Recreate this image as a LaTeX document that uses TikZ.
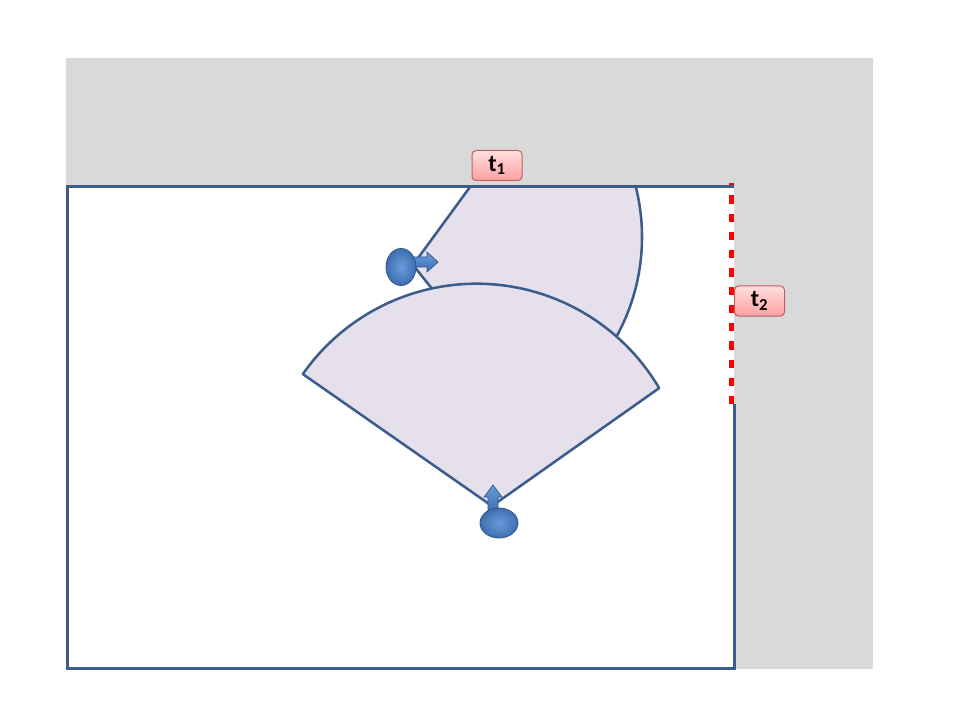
\documentclass[tikz,border=0pt]{standalone}
\usepackage{fontspec}
\setmainfont{Carlito}
\usetikzlibrary{shapes.geometric,calc}

\definecolor{slidegray}{RGB}{217,217,217}
\definecolor{roomblue}{RGB}{60,92,140}
\definecolor{sectorfill}{RGB}{230,224,236}
\definecolor{robotblue}{RGB}{62,110,175}
\definecolor{robotlight}{RGB}{105,155,220}
\definecolor{robotedge}{RGB}{45,85,140}
\definecolor{labeltop}{RGB}{255,222,222}
\definecolor{labelbottom}{RGB}{255,160,160}
\definecolor{labeledge}{RGB}{190,95,95}

\begin{document}
\begin{tikzpicture}[x=0.75pt, y=-0.75pt]

% Define styles
\tikzstyle{room} = [draw=roomblue, line width=2.25pt]
\tikzstyle{sector} = [draw=roomblue, line width=1.9pt, fill=sectorfill, line join=round]
\tikzstyle{robot} = [ellipse, draw=robotedge, line width=0.6pt, inner sep=0pt, inner color=robotlight, outer color=robotblue]
\tikzstyle{heading} = [draw=robotedge, line width=0.5pt, top color=robotlight, bottom color=robotblue]
\tikzstyle{timelabel} = [rectangle, rounded corners=3pt, draw=labeledge, line width=0.75pt, top color=labeltop, bottom color=labelbottom, minimum width=37.5pt, minimum height=22.5pt, inner sep=0pt, font=\fontsize{18}{20}\selectfont\bfseries]
\tikzstyle{frontier} = [draw=red, line width=3.75pt, dash pattern=on 6.2pt off 7.5pt, dash phase=4.5pt]

\useasboundingbox (0,0) rectangle (960,720);

% Background and free area
\fill [slidegray] (66,58) rectangle (873,669);
\fill [white] (67,187) rectangle (734,668);

% Sector centres
\coordinate (upapex) at (413,265);
\coordinate (upc) at (435,237);
\coordinate (lowapex) at (492,506);
\coordinate (lowc) at (476.5,495.7);

% Upper sensing sector
\begin{scope}
\clip (67,187) rectangle (734,668);
\draw [sector] (upapex) -- ($(upc)+(-54.2:207)$) arc [start angle=-54.2, end angle=61, radius=207] -- cycle;
\end{scope}

% Lower sensing sector
\draw [sector] (lowapex) -- ($(lowc)+(215:212)$) arc [start angle=215, end angle=329.5, radius=212] -- cycle;

% Room border
\draw [room] (734,404) -- (734,668) -- (67,668) -- (67,187) -- (734,187);
\draw [frontier] (731,183) -- (731,404);

% Robots
\draw [heading] (408,257) -- (427,257) -- (427,252) -- (438,262) -- (427,272) -- (427,267) -- (408,267) -- cycle;
\node [robot, minimum width=22.5pt, minimum height=27.75pt] (robotup) at (401,267) {};

\draw [heading] (488,512) -- (488,497) -- (484,497) -- (493,485) -- (502,497) -- (498,497) -- (498,512) -- cycle;
\node [robot, minimum width=28.5pt, minimum height=22.5pt] (robotlow) at (499,523) {};

% Time labels
\node [timelabel] (tone) at (497,165.5) {t\textsubscript{1}};
\node [timelabel] (ttwo) at (759.5,301) {t\textsubscript{2}};

\end{tikzpicture}
\end{document}
